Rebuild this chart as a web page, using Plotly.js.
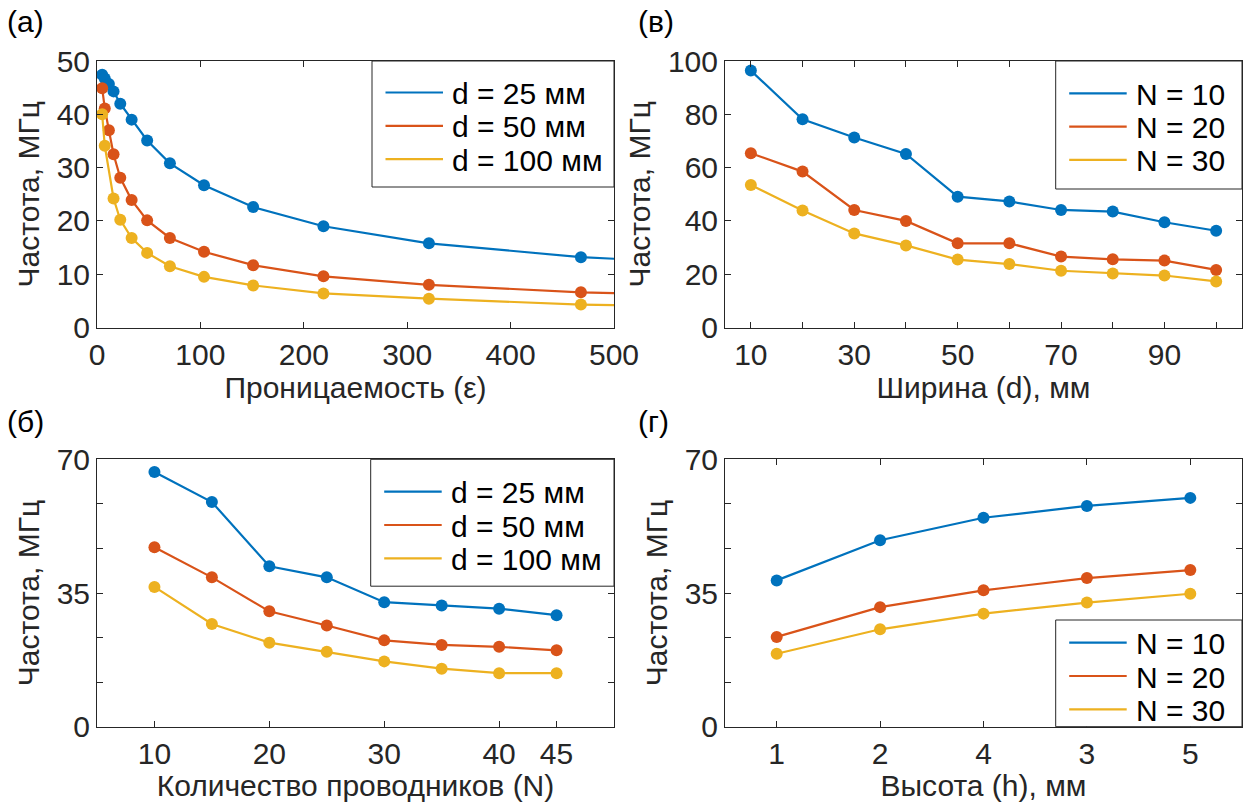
<!DOCTYPE html>
<html>
<head>
<meta charset="utf-8">
<script src="https://cdn.plot.ly/plotly-3.0.1.min.js"></script>
<style>html,body{margin:0;padding:0;background:#fff}</style>
</head>
<body>
<div id="chart" style="width:1251px;height:802px"></div>
<script>
// ---------- DATA ----------
// Panel (а): frequency vs permittivity
const epsValues = [5, 7.5, 11.5, 16, 22.5, 33.5, 48.5, 70.5, 103.5, 151, 219, 321, 468, 681];
const freqEps_d25  = [47.4, 46.7, 45.7, 44.3, 42.0, 39.0, 35.1, 30.8, 26.7, 22.6, 19.0, 15.8, 13.2, 11.2];
const freqEps_d50  = [44.9, 41.1, 37.0, 32.5, 28.1, 23.9, 20.1, 16.8, 14.2, 11.7, 9.6, 8.0, 6.6, 5.6];
const freqEps_d100 = [40.0, 34.1, null, 24.2, 20.2, 16.8, 14.0, 11.5, 9.5, 7.9, 6.4, 5.4, 4.3, 3.6];

// Panel (в): frequency vs width d
const widthValues = [10, 20, 30, 40, 50, 60, 70, 80, 90, 100];
const freqW_N10 = [96.4, 78.1, 71.3, 65.1, 49.1, 47.3, 44.1, 43.5, 39.5, 36.3];
const freqW_N20 = [65.4, 58.5, 44.1, 40.0, 31.6, 31.6, 26.6, 25.6, 25.1, 21.6];
const freqW_N30 = [53.5, 43.9, 35.3, 30.8, 25.5, 23.8, 21.3, 20.3, 19.5, 17.3];

// Panel (б): frequency vs number of conductors N
const condValues = [10, 15, 20, 25, 30, 35, 40, 45];
const freqN_d25  = [66.7, 58.8, 42.0, 39.1, 32.6, 31.7, 30.9, 29.2];
const freqN_d50  = [47.0, 39.1, 30.2, 26.5, 22.6, 21.4, 20.9, 20.0];
const freqN_d100 = [36.6, 26.9, 22.0, 19.6, 17.1, 15.2, 14.0, 14.0];

// Panel (г): frequency vs height h (category order as printed)
const heightLabels = ['1', '2', '4', '3', '5'];
const freqH_N10 = [38.3, 48.8, 54.7, 57.8, 59.9];
const freqH_N20 = [23.5, 31.3, 35.7, 38.9, 41.0];
const freqH_N30 = [19.1, 25.5, 29.6, 32.5, 34.8];

const legendD = ['d = 25 мм', 'd = 50 мм', 'd = 100 мм'];
const legendN = ['N = 10', 'N = 20', 'N = 30'];

// Tick labels
const ticksA_x = [0, 100, 200, 300, 400, 500];
const ticksA_y = [0, 10, 20, 30, 40, 50];
const ticksB_x = [10, 20, 30, 40, 50, 60, 70, 80, 90, 100];
const ticksB_xText = ['10', '', '30', '', '50', '', '70', '', '90', ''];
const ticksB_y = [0, 20, 40, 60, 80, 100];
const ticks70_y = [0, 70/6, 140/6, 35, 280/6, 350/6, 70];
const ticks70_yText = ['0', '', '', '35', '', '', '70'];
const ticksC_x = [10, 20, 30, 40, 45];
const ticksC_topX = [14, 23, 32, 41];

// ---------- STYLE ----------
const colors = ['#0072BD', '#D95319', '#EDB120'];
const FONT = 'Liberation Sans, Arial, Helvetica, sans-serif';
const TXT = '#262626';
const FS = 30;

function series(x, y, i, name, xa, ya) {
  return {x: x, y: y, xaxis: xa, yaxis: ya, type: 'scatter', mode: 'lines+markers',
    name: name, connectgaps: true, showlegend: false,
    line: {color: colors[i], width: 2.2}, marker: {color: colors[i], size: 12}};
}

const traces = [
  series(epsValues, freqEps_d25, 0, legendD[0], 'x', 'y'),
  series(epsValues, freqEps_d50, 1, legendD[1], 'x', 'y'),
  series(epsValues, freqEps_d100, 2, legendD[2], 'x', 'y'),
  series(widthValues, freqW_N10, 0, legendN[0], 'x2', 'y2'),
  series(widthValues, freqW_N20, 1, legendN[1], 'x2', 'y2'),
  series(widthValues, freqW_N30, 2, legendN[2], 'x2', 'y2'),
  series(condValues, freqN_d25, 0, legendD[0], 'x3', 'y3'),
  series(condValues, freqN_d50, 1, legendD[1], 'x3', 'y3'),
  series(condValues, freqN_d100, 2, legendD[2], 'x3', 'y3'),
  series(heightLabels, freqH_N10, 0, legendN[0], 'x4', 'y4'),
  series(heightLabels, freqH_N20, 1, legendN[1], 'x4', 'y4'),
  series(heightLabels, freqH_N30, 2, legendN[2], 'x4', 'y4'),
];

const W = 1251, H = 802;
const px = v => v / W;
const py = v => 1 - v / H;

function axis(extra) {
  return Object.assign({
    showline: true, linecolor: TXT, linewidth: 1, mirror: 'ticks',
    ticks: 'inside', ticklen: 6, tickcolor: TXT, tickwidth: 1,
    showgrid: false, zeroline: false, fixedrange: true,
    tickfont: {family: FONT, size: FS, color: TXT},
    automargin: false
  }, extra);
}
function ttl(text, standoff) {
  return {text: text, font: {family: FONT, size: FS, color: TXT}, standoff: standoff};
}

// Legend boxes (drawn as paper-space shapes + text, MATLAB style)
const shapes = [];
const annotations = [];
function legendBox(x0, x1, y0, y1, firstOffset, gap, names) {
  shapes.push({type: 'rect', xref: 'paper', yref: 'paper', x0: px(x0), x1: px(x1), y0: py(y1), y1: py(y0),
    fillcolor: '#ffffff', line: {color: TXT, width: 1}, layer: 'above'});
  names.forEach((n, i) => {
    const yy = y0 + firstOffset + i * gap;
    shapes.push({type: 'line', xref: 'paper', yref: 'paper', x0: px(x0 + 13.5), x1: px(x0 + 71), y0: py(yy), y1: py(yy),
      line: {color: colors[i], width: 2.2}, layer: 'above'});
    annotations.push({text: n, xref: 'paper', yref: 'paper', x: px(x0 + 78), y: py(yy + 1),
      xanchor: 'left', yanchor: 'middle', showarrow: false,
      font: {family: FONT, size: FS, color: '#000000'}});
  });
}
legendBox(372, 614, 61, 187, 31.5, 33.3, legendD);
legendBox(1055.7, 1242, 61, 189, 32.3, 33.3, legendN);
legendBox(370.7, 614, 459.3, 586.2, 32.4, 33.3, legendD);
legendBox(1055.7, 1242, 620, 726.7, 22.7, 33.3, legendN);

function panelLabel(t, x, y) {
  annotations.push({text: t, x: px(x), y: py(y), xref: 'paper', yref: 'paper', xanchor: 'left', yanchor: 'middle',
    showarrow: false, font: {family: FONT, size: FS, color: '#000'}});
}
panelLabel('(а)', 5, 22);
panelLabel('(в)', 636, 22);
panelLabel('(б)', 5, 421);
panelLabel('(г)', 636, 421);

const leftDom = [px(97), px(614)];
const rightDom = [px(725), px(1242)];
const topDom = [py(327.5), py(61)];
const botDom = [py(726.7), py(459.3)];

const layout = {
  width: W, height: H,
  margin: {l: 0, r: 0, t: 0, b: 0},
  paper_bgcolor: '#ffffff', plot_bgcolor: '#ffffff',
  font: {family: FONT, color: TXT},
  showlegend: false,
  xaxis: axis({domain: leftDom, anchor: 'y', range: [0, 500], tickvals: ticksA_x,
    title: ttl('Проницаемость (ε)', 4)}),
  yaxis: axis({domain: topDom, anchor: 'x', range: [0, 50], tickvals: ticksA_y,
    title: ttl('Частота, МГц', 8)}),
  xaxis2: axis({domain: rightDom, anchor: 'y2', range: [5, 105], tickvals: ticksB_x, ticktext: ticksB_xText,
    title: ttl('Ширина (d), мм', 4)}),
  yaxis2: axis({domain: topDom, anchor: 'x2', range: [0, 100], tickvals: ticksB_y,
    title: ttl('Частота, МГц', 8)}),
  xaxis3: axis({domain: leftDom, anchor: 'y3', range: [5, 50], tickvals: ticksC_x, mirror: true,
    title: ttl('Количество проводников (N)', 4)}),
  yaxis3: axis({domain: botDom, anchor: 'x3', range: [0, 70], tickvals: ticks70_y, ticktext: ticks70_yText,
    title: ttl('Частота, МГц', 8)}),
  xaxis5: axis({overlaying: 'x3', anchor: 'y3', side: 'top', range: [5, 50], tickvals: ticksC_topX,
    showticklabels: false, showline: false, mirror: false}),
  xaxis4: axis({domain: rightDom, anchor: 'y4', type: 'category', range: [-0.5, 4.5],
    categoryorder: 'array', categoryarray: heightLabels,
    title: ttl('Высота (h), мм', 4)}),
  yaxis4: axis({domain: botDom, anchor: 'x4', range: [0, 70], tickvals: ticks70_y, ticktext: ticks70_yText,
    title: ttl('Частота, МГц', 8)}),
  shapes: shapes,
  annotations: annotations
};

Plotly.newPlot('chart', traces, layout, {displayModeBar: false, responsive: false});
</script>
</body>
</html>
